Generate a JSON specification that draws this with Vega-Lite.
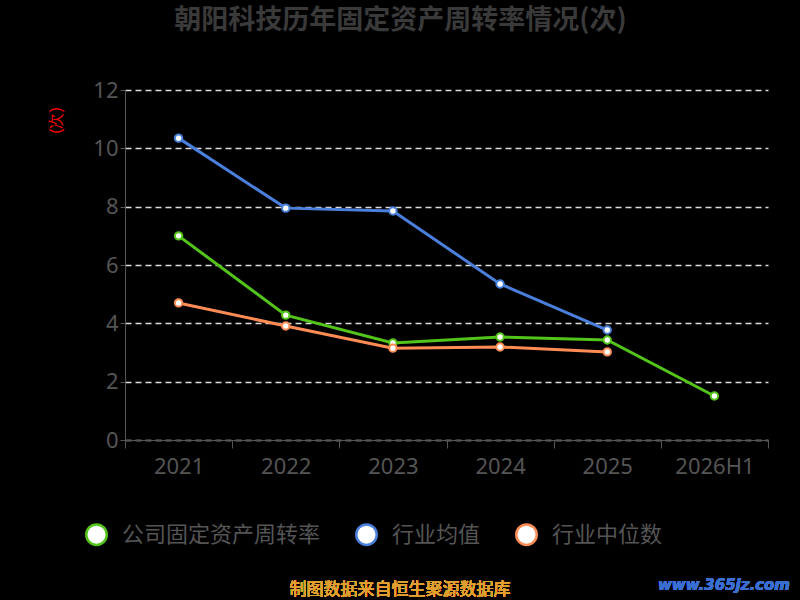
{
  "$schema": "https://vega.github.io/schema/vega-lite/v6.json",
  "autosize": "none",
  "width": 643,
  "height": 350,
  "padding": {"left": 125, "top": 90, "right": 32, "bottom": 160},
  "background": "#000000",
  "title": {"text": "朝阳科技历年固定资产周转率情况(次)", "anchor": "middle", "frame": "group", "dx": -46, "offset": 44, "fontSize": 27, "fontWeight": "bold", "color": "#3a3a3a", "font": "Noto Sans CJK SC"},
  "data": {"values": [
    {"year": "2021", "series": "公司固定资产周转率", "v": 7.0},
    {"year": "2022", "series": "公司固定资产周转率", "v": 4.28},
    {"year": "2023", "series": "公司固定资产周转率", "v": 3.33},
    {"year": "2024", "series": "公司固定资产周转率", "v": 3.53},
    {"year": "2025", "series": "公司固定资产周转率", "v": 3.43},
    {"year": "2026H1", "series": "公司固定资产周转率", "v": 1.51},
    {"year": "2021", "series": "行业均值", "v": 10.35},
    {"year": "2022", "series": "行业均值", "v": 7.95},
    {"year": "2023", "series": "行业均值", "v": 7.85},
    {"year": "2024", "series": "行业均值", "v": 5.35},
    {"year": "2025", "series": "行业均值", "v": 3.77},
    {"year": "2021", "series": "行业中位数", "v": 4.7},
    {"year": "2022", "series": "行业中位数", "v": 3.91},
    {"year": "2023", "series": "行业中位数", "v": 3.15},
    {"year": "2024", "series": "行业中位数", "v": 3.19},
    {"year": "2025", "series": "行业中位数", "v": 3.02}
  ]},
  "encoding": {
    "x": {"field": "year", "type": "ordinal", "scale": {"type": "band", "paddingInner": 0, "paddingOuter": 0},
      "axis": {"title": null, "labelAngle": 0, "labelFontSize": 22, "labelColor": "#555555", "labelFont": "Noto Sans", "domainColor": "#555555", "tickColor": "#555555", "tickBand": "extent", "tickSize": 8, "labelPadding": 8}},
    "y": {"field": "v", "type": "quantitative", "scale": {"domain": [0, 12]},
      "axis": {"title": "(次)", "titleColor": "#ff0000", "titleFontSize": 16, "titleFontWeight": "normal", "titlePadding": 40, "titleY": 30, "titleX": -62, "tickCount": 6, "labelFontSize": 22, "labelColor": "#555555", "labelFont": "Noto Sans", "domainColor": "#555555", "tickColor": "#555555", "gridColor": "#dddddd", "gridDash": [6, 4], "gridWidth": 1.5}},
    "stroke": {"field": "series", "type": "nominal",
      "scale": {"domain": ["公司固定资产周转率", "行业均值", "行业中位数"], "range": ["#52c41a", "#4a7fdc", "#ff8c55"]},
      "legend": {"orient": "none", "legendX": -40, "legendY": 433, "direction": "horizontal", "title": null, "symbolType": "circle", "symbolSize": 420, "symbolFillColor": "#ffffff", "symbolStrokeWidth": 2.5, "labelFontSize": 22, "labelColor": "#555555", "labelFont": "Noto Sans CJK SC", "labelLimit": 0, "labelOffset": 14, "columnPadding": 30}}
  },
  "layer": [
    {"mark": {"type": "line", "strokeWidth": 3}},
    {"mark": {"type": "point", "filled": false, "fill": "#ffffff", "fillOpacity": 1, "strokeWidth": 2, "size": 55, "opacity": 1}},
    {"mark": {"type": "text", "text": "制图数据来自恒生聚源数据库", "fontSize": 17, "fontWeight": "normal", "font": "Noto Sans CJK SC"}, "encoding": {"x": {"value": 275}, "y": {"value": 500}, "color": {"value": "#e0a030"}, "stroke": {"value": null}}},
    {"mark": {"type": "text", "text": "www.365jz.com", "fontSize": 15, "fontWeight": "bold", "fontStyle": "italic", "font": "DejaVu Sans", "align": "right"}, "encoding": {"x": {"value": 665}, "y": {"value": 495}, "color": {"value": "#3a6fd0"}, "stroke": {"value": null}}}
  ],
  "config": {"view": {"stroke": null}}
}
